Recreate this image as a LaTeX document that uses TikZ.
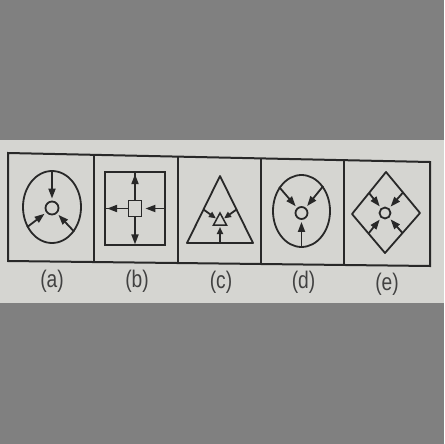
\documentclass[tikz,border=0pt]{standalone}
\usepackage{fontspec}
\newfontfamily\labfont[FakeStretch=0.8]{Liberation Sans}
\usetikzlibrary{arrows.meta,shapes.geometric,calc}
\definecolor{bggray}{RGB}{128,128,128}
\definecolor{paper}{RGB}{213,213,209}
\definecolor{ink}{RGB}{40,40,40}
\definecolor{labink}{RGB}{65,65,65}
\begin{document}
\begin{tikzpicture}[x=1pt,y=-1pt,
  fig/.style={draw=ink,line width=1.8pt},
  arr/.style={draw=ink,line width=1.8pt,-{Triangle[length=10pt,width=7pt]},shorten >=2pt},
  lab/.style={text=labink,font=\labfont\fontsize{24}{24}\selectfont,inner sep=0pt}]
\fill[bggray] (0,0) rectangle (444,444);
\fill[paper] (0,140) rectangle (444,303);
\useasboundingbox (0,0) rectangle (444,444);
% outer box
\coordinate (TL) at (8,153);
\coordinate (TR) at (430,162);
\coordinate (BR) at (430,266);
\coordinate (BL) at (8,261);
\draw[ink,line width=2pt] (TL) -- (TR) -- (BR) -- (BL) -- cycle;
\coordinate (t1) at (94,154.8);  \coordinate (b1) at (94,262);
\coordinate (t2) at (178,156.6); \coordinate (b2) at (178,263);
\coordinate (t3) at (261,158.4); \coordinate (b3) at (261,264);
\coordinate (t4) at (344,160.2); \coordinate (b4) at (344,265);
\draw[ink,line width=2pt] (t1) -- (b1) (t2) -- (b2) (t3) -- (b3) (t4) -- (b4);
% (a)
\node[fig,ellipse,minimum width=58pt,minimum height=72pt,inner sep=0pt] (ea) at (52,207) {};
\node[fig,circle,minimum size=13pt,inner sep=0pt] (ca) at (52,208) {};
\draw[arr] (ea.90) -- (ca);
\draw[arr] (ea.219) -- (ca);
\draw[arr] (ea.312) -- (ca);
% (b)
\node[fig,rectangle,minimum width=60pt,minimum height=73pt,inner sep=0pt] (rb) at (135,208.5) {};
\node[fig,rectangle,minimum width=13pt,minimum height=16pt,inner sep=0pt] (sb) at (135,208.5) {};
\draw[arr,shorten >=3pt] (sb.north) -- (sb.north |- rb.north);
\draw[arr,shorten >=1.5pt] (sb.south) -- (sb.south |- rb.south);
\draw[arr,shorten >=3pt] (sb.west) -- (sb.west -| rb.west);
\draw[arr,shorten >=3pt] (sb.east -| rb.east) -- (sb.east);
\draw[fig] (sb.north |- rb.north) -- (sb.north);
\draw[fig] (sb.west -| rb.west) -- (sb.west);
% (c)
\coordinate (cA) at (220,176);
\coordinate (cB) at (187,243);
\coordinate (cC) at (253,243);
\draw[fig,line join=round] (cA) -- (cB) -- (cC) -- cycle;
\coordinate (sA) at (220,213);
\coordinate (sB) at (213.5,225);
\coordinate (sC) at (226.5,225);
\draw[fig,line width=1.5pt] (sA) -- (sB) -- (sC) -- cycle;
\draw[arr,shorten >=1pt,-{Triangle[length=7pt,width=6pt]}] ($(cA)!0.5!(cB)$) -- ($(sA)!0.5!(sB)$);
\draw[arr,shorten >=1pt,-{Triangle[length=7pt,width=6pt]}] ($(cA)!0.5!(cC)$) -- ($(sA)!0.5!(sC)$);
\draw[arr,shorten >=2pt,-{Triangle[length=7pt,width=6pt]}] ($(cB)!0.5!(cC)$) -- ($(sB)!0.5!(sC)$);
% (d)
\node[fig,ellipse,minimum width=57pt,minimum height=72pt,inner sep=0pt] (ed) at (301.5,211) {};
\node[fig,circle,minimum size=12pt,inner sep=0pt] (cd) at (301.5,213) {};
\draw[arr] (ed.133) -- (cd);
\draw[arr] (ed.49) -- (cd);
\draw[arr] (ed.270) -- (cd);
% (e)
\coordinate (eT) at (386,172);
\coordinate (eR) at (420,213);
\coordinate (eB) at (385,253);
\coordinate (eL) at (352,214);
\draw[fig,line join=round] (eT) -- (eR) -- (eB) -- (eL) -- cycle;
\node[fig,circle,minimum size=11pt,inner sep=0pt] (ce) at (385,213) {};
\draw[arr] ($(eT)!0.5!(eL)$) -- (ce);
\draw[arr] ($(eT)!0.5!(eR)$) -- (ce);
\draw[arr] ($(eB)!0.5!(eL)$) -- (ce);
\draw[arr] ($(eB)!0.5!(eR)$) -- (ce);
% labels
\node[lab] (la) at (52,281) {(a)};
\node[lab] (lb) at (137,281) {(b)};
\node[lab] (lc) at (221,282) {(c)};
\node[lab] (ld) at (303.5,282) {(d)};
\node[lab] (le) at (387,284) {(e)};
\end{tikzpicture}
\end{document}
